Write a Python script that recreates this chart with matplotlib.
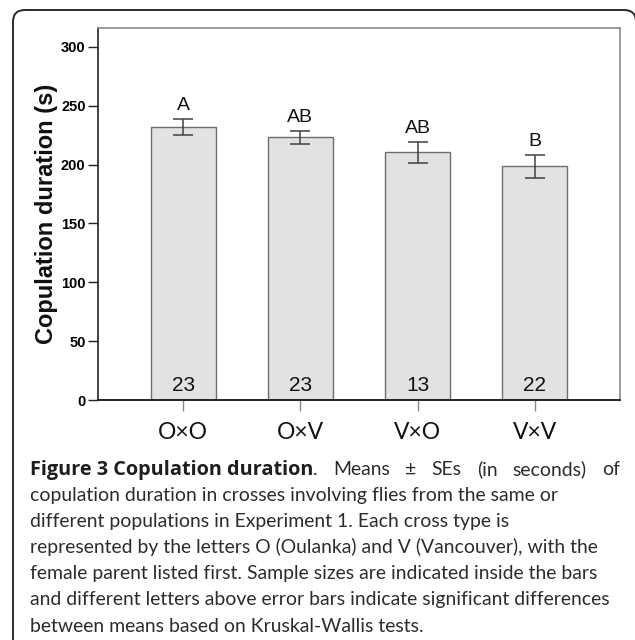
import matplotlib
matplotlib.use("Agg")
import matplotlib.pyplot as plt
from matplotlib.path import Path
from matplotlib.patches import PathPatch

# ---- data ----
crosses = ["O×O", "O×V", "V×O", "V×V"]
means = [232, 223, 210.5, 198.5]
ses = [7, 5.5, 9, 9.5]
sample_sizes = [23, 23, 13, 22]
letters = ["A", "AB", "AB", "B"]
yticks = [0, 50, 100, 150, 200, 250, 300]

caption_bold = "Figure 3 Copulation duration"
caption_lines = [
    ". Means ± SEs (in seconds) of",
    "copulation duration in crosses involving flies from the same or",
    "different populations in Experiment 1. Each cross type is",
    "represented by the letters O (Oulanka) and V (Vancouver), with the",
    "female parent listed first. Sample sizes are indicated inside the bars",
    "and different letters above error bars indicate significant differences",
    "between means based on Kruskal-Wallis tests.",
]

W, H = 635, 640
fig = plt.figure(figsize=(W / 100, H / 100), dpi=100)
fig.patch.set_facecolor("white")

# outer rounded frame (pixel coords from top-left, converted to figure fraction)
def fp(px, py):
    return (px / W, (H - py) / H)

L, T, R, r = 13, 10, 636, 12
verts = [fp(L, H + 5), fp(L, T + r), fp(L, T), fp(L + r, T),
         fp(R - r, T), fp(R, T), fp(R, T + r), fp(R, H + 5)]
codes = [Path.MOVETO, Path.LINETO, Path.CURVE3, Path.CURVE3,
         Path.LINETO, Path.CURVE3, Path.CURVE3, Path.LINETO]
fig.patches.append(PathPatch(Path(verts, codes), transform=fig.transFigure,
                             fill=False, edgecolor="#2a2a2a", linewidth=1.4,
                             clip_on=False))

ax = fig.add_axes([98 / W, (H - 400) / H, (620 - 98) / W, (400 - 28) / H])
x = list(range(len(crosses)))
ax.bar(x, means, width=0.553, color="#e2e2e2", edgecolor="#6e6e6e",
       linewidth=1.0, zorder=2)
ax.errorbar(x, means, yerr=ses, fmt="none", ecolor="#404040",
            elinewidth=1.1, capsize=7.5, capthick=1.1, zorder=3)

for xi, m, s, lab in zip(x, means, ses, letters):
    ax.text(xi, m + s + 4, lab, ha="center", va="bottom",
            fontsize=14, family="Liberation Sans", color="#111111")
for xi, n in zip(x, sample_sizes):
    ax.text(xi, 4, str(n), ha="center", va="bottom",
            fontsize=15, family="Liberation Sans", color="#111111")

ax.set_xlim(-0.727, 3.727)
ax.set_ylim(0, 316)
ax.set_yticks(yticks)
ax.set_yticklabels([str(t) for t in yticks], fontsize=10.5,
                   fontweight="bold", family="Liberation Sans")
ax.set_xticks(x)
ax.set_xticklabels(crosses, fontsize=16.5, family="Lato", color="#111111")
ax.tick_params(axis="y", direction="out", length=7, width=1.0,
               color="#222222", pad=2)
ax.tick_params(axis="x", direction="out", length=8, width=1.0,
               color="#888888", pad=8)
ax.spines["left"].set_color("#222222")
ax.spines["bottom"].set_color("#222222")
ax.spines["left"].set_linewidth(1.2)
ax.spines["bottom"].set_linewidth(1.4)
ax.spines["top"].set_color("#8c8c8c")
ax.spines["right"].set_color("#8c8c8c")
ax.spines["top"].set_linewidth(1.2)
ax.spines["right"].set_linewidth(1.2)
ax.set_ylabel("Copulation duration (s)", fontsize=17, fontweight="bold",
              family="Liberation Sans", labelpad=2, color="#111111")

# ---- caption ----
fig.canvas.draw()
renderer = fig.canvas.get_renderer()
x0, x1 = 30, 620
base0 = 475
lh = 26.1

def put(xpx, ypx, s, bold=False, fs=14):
    return fig.text(xpx / W, (H - ypx) / H, s, fontsize=fs,
                    family="Open Sans" if bold else "Lato",
                    fontweight="bold" if bold else "normal",
                    color="#1e1e1e" if bold else "#2c2c2c",
                    ha="left", va="baseline")

def width(s, bold=False, fs=14):
    t = put(0, -100, s, bold, fs)
    bb = t.get_window_extent(renderer)
    t.remove()
    return bb.width

# fit caption size so the widest line spans the same width as in the figure
cap_fs = 14 * 582.0 / width(caption_lines[5], False, 14)
bold_fs = 14 * 285.0 / width(caption_bold, True, 14)

# line 1: bold phrase with natural spacing, rest justified to the right edge
put(x0, base0, caption_bold, True, bold_fs)
bx = x0 + width(caption_bold, True, bold_fs)
rest = caption_lines[0].split(" ")
widths = [width(w, False, cap_fs) for w in rest]
gap = (x1 - bx - sum(widths)) / (len(rest) - 1)
cx = bx
for w, wd in zip(rest, widths):
    put(cx, base0, w, False, cap_fs)
    cx += wd + gap

for i, line in enumerate(caption_lines[1:], start=1):
    put(x0, base0 + i * lh, line, False, cap_fs)

fig.savefig("out.png", dpi=100, facecolor="white")
